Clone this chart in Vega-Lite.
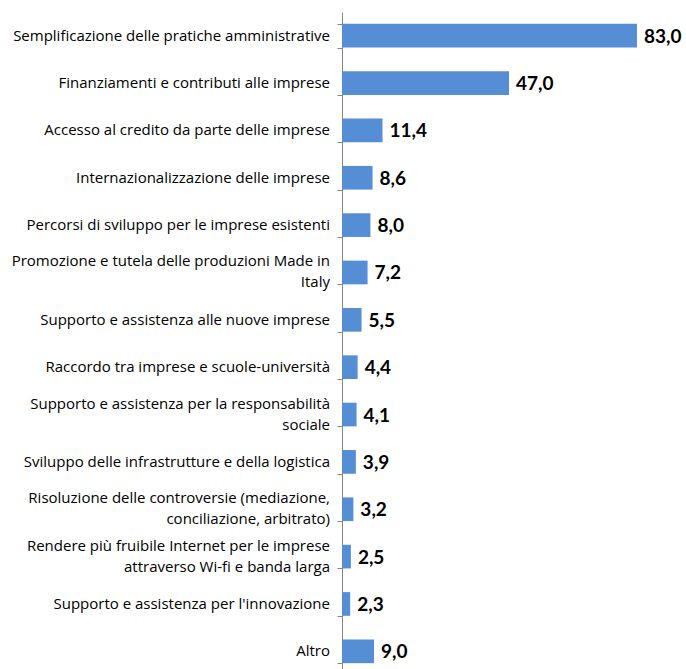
{
  "$schema": "https://vega.github.io/schema/vega-lite/v6.json",
  "width": 344,
  "height": 663,
  "padding": {"left": 342, "top": 12, "right": 0, "bottom": 0},
  "autosize": {"type": "none"},
  "background": "white",
  "config": {
    "view": {"stroke": null},
    "locale": {"number": {"decimal": ",", "thousands": ".", "grouping": [3], "currency": ["€", ""]}}
  },
  "data": {
    "values": [
      {"voce": "Semplificazione delle pratiche amministrative", "valore": 83.0},
      {"voce": "Finanziamenti e contributi alle imprese", "valore": 47.0},
      {"voce": "Accesso al credito da parte delle imprese", "valore": 11.4},
      {"voce": "Internazionalizzazione delle imprese", "valore": 8.6},
      {"voce": "Percorsi di sviluppo per le imprese esistenti", "valore": 8.0},
      {"voce": "Promozione e tutela delle produzioni Made in|Italy", "valore": 7.2},
      {"voce": "Supporto e assistenza alle nuove imprese", "valore": 5.5},
      {"voce": "Raccordo tra imprese e scuole-università", "valore": 4.4},
      {"voce": "Supporto e assistenza per la responsabilità|sociale", "valore": 4.1},
      {"voce": "Sviluppo delle infrastrutture e della logistica", "valore": 3.9},
      {"voce": "Risoluzione delle controversie (mediazione,|conciliazione, arbitrato)", "valore": 3.2},
      {"voce": "Rendere più fruibile Internet per le imprese|attraverso Wi-fi e banda larga", "valore": 2.5},
      {"voce": "Supporto e assistenza per l'innovazione", "valore": 2.3},
      {"voce": "Altro", "valore": 9.0}
    ]
  },
  "transform": [{"calculate": "split(datum.voce, '|')", "as": "righe"}],
  "encoding": {
    "y": {
      "field": "voce",
      "type": "nominal",
      "sort": null,
      "scale": {"paddingInner": 0.5, "paddingOuter": 0.25},
      "axis": {
        "title": null,
        "labels": false,
        "tickBand": "extent",
        "tickSize": 5,
        "tickColor": "#868686",
        "domainColor": "#868686",
        "tickWidth": 1,
        "domainWidth": 1
      }
    }
  },
  "layer": [
    {
      "mark": {"type": "bar", "color": "#558ED5"},
      "encoding": {
        "x": {"field": "valore", "type": "quantitative", "scale": {"domain": [0, 96.8], "nice": false, "zero": true}, "axis": null}
      }
    },
    {
      "mark": {"type": "text", "align": "left", "dx": 7, "font": "Lato", "fontSize": 19, "fontWeight": "bold", "color": "#000000", "baseline": "middle", "dy": 1},
      "encoding": {
        "x": {"field": "valore", "type": "quantitative", "scale": {"domain": [0, 96.8], "nice": false, "zero": true}, "axis": null},
        "text": {"field": "valore", "type": "quantitative", "format": ".1f"}
      }
    },
    {
      "mark": {
        "type": "text",
        "align": "right",
        "dx": -12,
        "font": "Open Sans",
        "fontSize": 15,
        "color": "#000000",
        "lineHeight": 21,
        "baseline": {"expr": "length(datum.righe) > 1 ? 'line-bottom' : 'middle'"}
      },
      "encoding": {
        "x": {"datum": 0, "type": "quantitative", "scale": {"domain": [0, 96.8], "nice": false, "zero": true}, "axis": null},
        "text": {"field": "righe"}
      }
    }
  ]
}
